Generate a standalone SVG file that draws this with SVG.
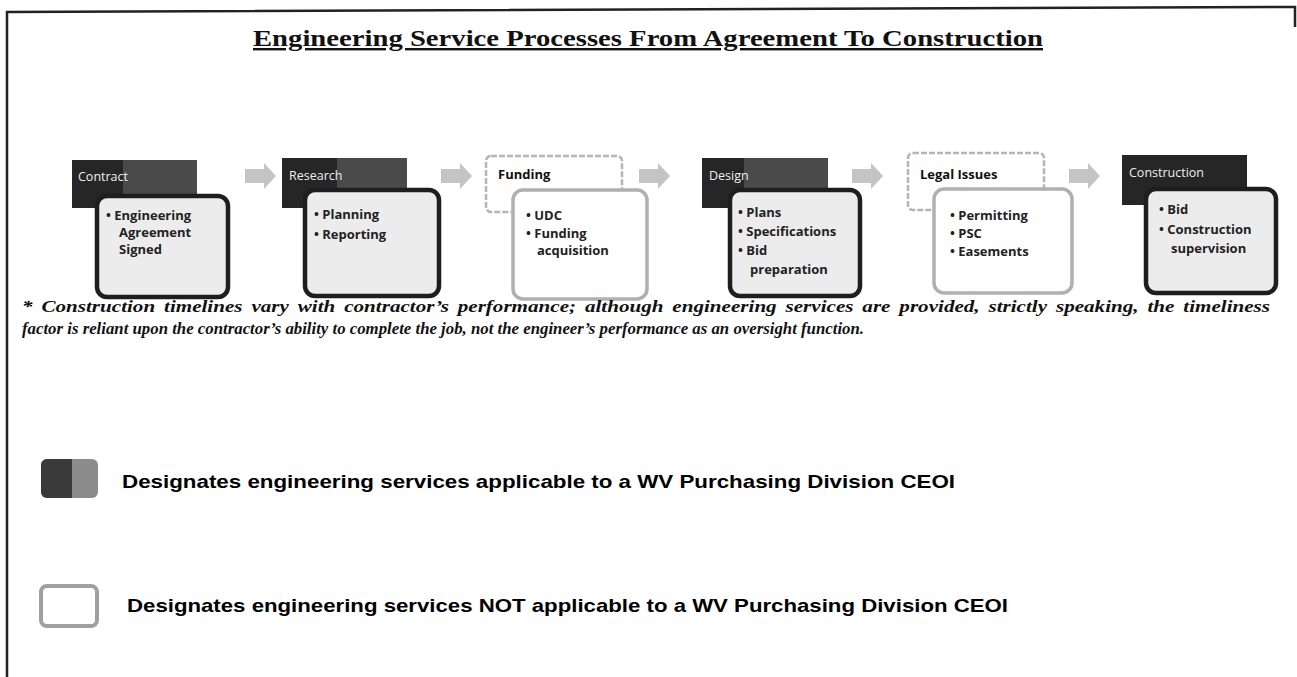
<svg xmlns="http://www.w3.org/2000/svg" width="1297" height="677" viewBox="0 0 1297 677">
<style>
.frame{fill:none;stroke:#222;stroke-width:2.5}
.title{font-family:"Liberation Serif",serif;font-weight:bold;font-size:24px;fill:#111;text-decoration:underline}
.hdrD{fill:#262626}
.hdrD2{fill:#4a4a4a}
.hdrL{fill:#fff;stroke:#b5b5b5;stroke-width:2.5;stroke-dasharray:6 2}
.bodyD{fill:#ececec;stroke:#1e1e1e;stroke-width:4.5}
.bodyL{fill:#fff;stroke:#b0b0b0;stroke-width:3.5}
.wt{font-family:"Open Sans","Liberation Sans",sans-serif;font-size:12.5px;fill:#eee}
.bt{font-family:"Open Sans","Liberation Sans",sans-serif;font-size:13px;font-weight:bold;fill:#111}
.bl{font-family:"Open Sans","Liberation Sans",sans-serif;font-size:13px;font-weight:bold;fill:#222}
.arr{fill:#c4c4c4}
.note{font-family:"Liberation Serif",serif;font-style:italic;font-weight:bold;font-size:17.5px;fill:#111}
.leg{font-family:"Liberation Sans",Arial,sans-serif;font-weight:bold;font-size:19px;fill:#000}
</style>

<path class="frame" d="M7,677 L7,12 L1295,7 L1295,27"/>

<text class="title" x="648" y="46" text-anchor="middle" textLength="790" lengthAdjust="spacingAndGlyphs">Engineering Service Processes From  Agreement To Construction</text>

<g id="connectors">
  <path class="arr" d="M245,169 H264 V163 L276,176 L264,189 V183 H245 Z"/>
  <path class="arr" d="M441,169 H460 V163 L472,176 L460,189 V183 H441 Z"/>
  <path class="arr" d="M639,169 H658 V163 L670,176 L658,189 V183 H639 Z"/>
  <path class="arr" d="M852,169 H871 V163 L883,176 L871,189 V183 H852 Z"/>
  <path class="arr" d="M1069,169 H1088 V163 L1100,176 L1088,189 V183 H1069 Z"/>
</g>

<g id="node-contract">
  <rect class="hdrD" x="72" y="160" width="125" height="48"/>
  <rect class="hdrD2" x="123" y="160" width="74" height="35"/>
  <text class="wt" x="78" y="181">Contract</text>
  <rect class="bodyD" x="97" y="196" width="131" height="101" rx="10"/>
  <text class="bl" x="106" y="220">• Engineering</text>
  <text class="bl" x="119" y="237">Agreement</text>
  <text class="bl" x="119" y="254">Signed</text>
</g>

<g id="node-research">
  <rect class="hdrD" x="282" y="158" width="125" height="50"/>
  <rect class="hdrD2" x="337" y="158" width="70" height="36"/>
  <text class="wt" x="289" y="180">Research</text>
  <rect class="bodyD" x="305" y="190" width="134" height="106" rx="10"/>
  <text class="bl" x="314" y="219">• Planning</text>
  <text class="bl" x="314" y="239">• Reporting</text>
</g>

<g id="node-funding">
  <rect class="hdrL" x="486" y="156" width="136" height="56" rx="5"/>
  <text class="bt" x="498" y="179">Funding</text>
  <rect class="bodyL" x="513" y="190" width="134" height="109" rx="10"/>
  <text class="bl" x="526" y="220">• UDC</text>
  <text class="bl" x="526" y="238">• Funding</text>
  <text class="bl" x="537" y="255">acquisition</text>
</g>

<g id="node-design">
  <rect class="hdrD" x="702" y="158" width="126" height="50"/>
  <rect class="hdrD2" x="744" y="158" width="84" height="36"/>
  <text class="wt" x="709" y="180">Design</text>
  <rect class="bodyD" x="730" y="190" width="130" height="106" rx="10"/>
  <text class="bl" x="738" y="217">• Plans</text>
  <text class="bl" x="738" y="236">• Specifications</text>
  <text class="bl" x="738" y="255">• Bid</text>
  <text class="bl" x="750" y="274">preparation</text>
</g>

<g id="node-legal">
  <rect class="hdrL" x="908" y="153" width="136" height="57" rx="5"/>
  <text class="bt" x="920" y="179">Legal Issues</text>
  <rect class="bodyL" x="934" y="189" width="138" height="104" rx="10"/>
  <text class="bl" x="950" y="220">• Permitting</text>
  <text class="bl" x="950" y="238">• PSC</text>
  <text class="bl" x="950" y="256">• Easements</text>
</g>

<g id="node-construction">
  <rect class="hdrD" x="1122" y="155" width="125" height="50"/>
  <text class="wt" x="1129" y="177">Construction</text>
  <rect class="bodyD" x="1146" y="189" width="130" height="104" rx="10"/>
  <text class="bl" x="1159" y="214">• Bid</text>
  <text class="bl" x="1159" y="234">• Construction</text>
  <text class="bl" x="1171" y="253">supervision</text>
</g>

<text class="note" x="22" y="312" style="word-spacing:3px" textLength="1248" lengthAdjust="spacingAndGlyphs">* Construction timelines vary with contractor’s performance; although engineering services are provided, strictly speaking, the timeliness</text>
<text class="note" x="22" y="334" textLength="842" lengthAdjust="spacingAndGlyphs">factor is reliant upon the contractor’s ability to complete the job, not the engineer’s performance as an oversight function.</text>

<g id="legend-ceoi">
  <rect x="41" y="459" width="57" height="39" rx="6" fill="#8c8c8c"/>
  <path d="M47,459 H72 V498 H47 A6,6 0 0 1 41,492 V465 A6,6 0 0 1 47,459 Z" fill="#3a3a3a"/>
  <text class="leg" x="122" y="488" textLength="833" lengthAdjust="spacingAndGlyphs">Designates engineering services applicable to a WV Purchasing Division CEOI</text>
</g>

<g id="legend-not-ceoi">
  <rect x="41" y="586" width="56" height="40" rx="6" fill="#fff" stroke="#a0a0a0" stroke-width="4"/>
  <text class="leg" x="127" y="612" textLength="881" lengthAdjust="spacingAndGlyphs">Designates engineering services NOT applicable to a WV Purchasing Division CEOI</text>
</g>
</svg>
